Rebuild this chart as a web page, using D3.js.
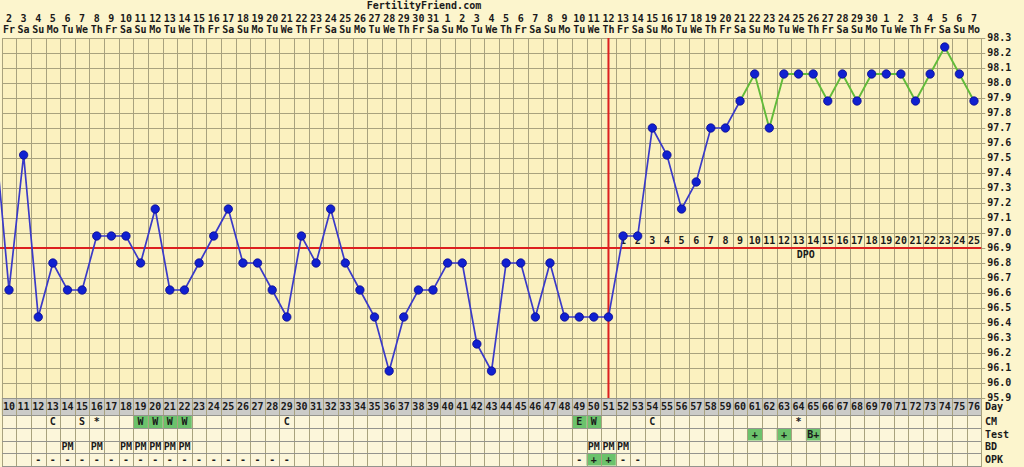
<!DOCTYPE html>
<html><head><meta charset="utf-8">
<script src="https://cdn.jsdelivr.net/npm/d3@7"></script>
<style>
body{margin:0;background:#fcf5cd;}
svg{display:block;}
text{font-family:"DejaVu Sans Mono","Liberation Mono",monospace;font-weight:bold;font-size:10px;fill:#1a1a1a;}
</style>
</head><body>
<svg id="c" width="1024" height="467"></svg>
<script>
// ---- data ----
const cycleDays = [10,11,12,13,14,15,16,17,18,19,20,21,22,23,24,25,26,27,28,29,30,31,32,33,34,35,36,37,38,39,40,41,42,43,44,45,46,47,48,49,50,51,52,53,54,55,56,57,58,59,60,61,62,63,64,65,66,67,68,69,70,71,72,73,74,75,76];
const dateLabels = ["2","3","4","5","6","7","8","9","10","11","12","13","14","15","16","17","18","19","20","21","22","23","24","25","26","27","28","29","30","31","1","2","3","4","5","6","7","8","9","10","11","12","13","14","15","16","17","18","19","20","21","22","23","24","25","26","27","28","29","30","1","2","3","4","5","6","7"];
const weekdayLabels = ["Fr","Sa","Su","Mo","Tu","We","Th","Fr","Sa","Su","Mo","Tu","We","Th","Fr","Sa","Su","Mo","Tu","We","Th","Fr","Sa","Su","Mo","Tu","We","Th","Fr","Sa","Su","Mo","Tu","We","Th","Fr","Sa","Su","Mo","Tu","We","Th","Fr","Sa","Su","Mo","Tu","We","Th","Fr","Sa","Su","Mo","Tu","We","Th","Fr","Sa","Su","Mo","Tu","We","Th","Fr","Sa","Su","Mo"];
// temperature days 9..76 (day 9 lies just off the left edge)
const tempDays = [9,10,11,12,13,14,15,16,17,18,19,20,21,22,23,24,25,26,27,28,29,30,31,32,33,34,35,36,37,38,39,40,41,42,43,44,45,46,47,48,49,50,51,52,53,54,55,56,57,58,59,60,61,62,63,64,65,66,67,68,69,70,71,72,73,74,75,76];
const temps = [97.70,96.62,97.52,96.44,96.80,96.62,96.62,96.98,96.98,96.98,96.80,97.16,96.62,96.62,96.80,96.98,97.16,96.80,96.80,96.62,96.44,96.98,96.80,97.16,96.80,96.62,96.44,96.08,96.44,96.62,96.62,96.80,96.80,96.26,96.08,96.80,96.80,96.44,96.80,96.44,96.44,96.44,96.44,96.98,96.98,97.70,97.52,97.16,97.34,97.70,97.70,97.88,98.06,97.70,98.06,98.06,98.06,97.88,98.06,97.88,98.06,98.06,98.06,97.88,98.06,98.24,98.06,97.88];
const greenFromDay = 60;
const coverline = 96.9;
const ovulationDay = 51;
const dpoDays = [52,53,54,55,56,57,58,59,60,61,62,63,64,65,66,67,68,69,70,71,72,73,74,75,76];
const dpoLabels = ["1","2","3","4","5","6","7","8","9","10","11","12","13","14","15","16","17","18","19","20","21","22","23","24","25"];
const tempTicks = [95.9,96.0,96.1,96.2,96.3,96.4,96.5,96.6,96.7,96.8,96.9,97.0,97.1,97.2,97.3,97.4,97.5,97.6,97.7,97.8,97.9,98.0,98.1,98.2,98.3];
const rowNames = ["Day","CM","Test","BD","OPK"];
const cmDays = [13,15,16,19,20,21,22,29,49,50,54,64];
const cmVals = ["C","S","*","W","W","W","W","C","E","W","C","*"];
const testDays = [61,63,65];
const testVals = ["+","+","B+"];
const bdDays = [14,16,18,19,20,21,22,50,51,52];
const bdVals = ["PM","PM","PM","PM","PM","PM","PM","PM","PM","PM"];
const opkDays = [12,13,14,15,16,17,18,19,20,21,22,23,24,25,26,27,28,29,49,50,51,52,53];
const opkVals = ["-","-","-","-","-","-","-","-","-","-","-","-","-","-","-","-","-","-","-","+","+","-","-"];

// ---- layout ----
const svg = d3.select("#c");
const L = 1.7, R = 981.3, T = 38, B = 398;
const x = d3.scaleLinear().domain([9.5, 76.5]).range([L, R]); // day centre
const y = d3.scaleLinear().domain([95.9, 98.3]).range([B, T]);
const cw = x(1) - x(0);
const rowTops = [398, 415, 428, 440.5, 453, 465.5];
const highlight = v => ["W","E","+","B+"].includes(v);

svg.append("rect").attr("x",L).attr("y",T).attr("width",R-L).attr("height",B-T).attr("fill","#fbf1bf");
svg.append("rect").attr("x",L).attr("y",rowTops[1]).attr("width",R-L).attr("height",467-rowTops[1]).attr("fill","#fcf6da");
svg.append("rect").attr("x",L).attr("y",rowTops[0]).attr("width",R-L).attr("height",rowTops[1]-rowTops[0]).attr("fill","#cbcbc8");

function cells(days, vals, r){
  days.forEach((d,i)=>{
    if(highlight(vals[i])) svg.append("rect").attr("x",x(d-0.5)).attr("y",rowTops[r]).attr("width",cw).attr("height",rowTops[r+1]-rowTops[r]).attr("fill","#6cc26c");
  });
}
cells(cmDays, cmVals, 1); cells(testDays, testVals, 2); cells(opkDays, opkVals, 4);

// grid
const g = svg.append("g").attr("stroke","#a8a27e").attr("stroke-width",1).attr("shape-rendering","crispEdges");
g.selectAll("line.h").data(tempTicks).join("line")
  .attr("x1",L).attr("x2",R).attr("y1",d=>Math.round(y(d))+0.5).attr("y2",d=>Math.round(y(d))+0.5);
g.selectAll("line.v").data([9].concat(cycleDays)).join("line")
  .attr("x1",d=>Math.round(x(d+0.5))+0.5).attr("x2",d=>Math.round(x(d+0.5))+0.5).attr("y1",T).attr("y2",467);
const g2 = svg.append("g").attr("stroke","#94948e").attr("stroke-width",1).attr("shape-rendering","crispEdges");
g2.selectAll("line").data(rowTops).join("line").attr("x1",L).attr("x2",R).attr("y1",d=>Math.round(d)+0.5).attr("y2",d=>Math.round(d)+0.5);

// right axis
const ax = svg.append("g").attr("transform",`translate(${R},0)`)
  .call(d3.axisRight(y).tickValues(tempTicks).tickFormat(d3.format(".1f")).tickSize(4).tickPadding(2));
ax.select(".domain").remove();
ax.selectAll("line").attr("stroke","#a8a27e");
ax.selectAll("text").attr("font-size","10.5px").attr("dy","0.2em");

// top labels
svg.append("text").attr("x",424).attr("y",9).attr("text-anchor","middle").attr("font-size","10px").text("FertilityFriend.com");
svg.selectAll("text.dn").data(cycleDays).join("text").attr("x",d=>x(d)).attr("y",22).attr("text-anchor","middle").text((d,i)=>dateLabels[i]);
svg.selectAll("text.wd").data(cycleDays).join("text").attr("x",d=>x(d)).attr("y",33).attr("text-anchor","middle").text((d,i)=>weekdayLabels[i]);

// coverline & ovulation
svg.append("line").attr("x1",0).attr("x2",R).attr("y1",y(coverline)).attr("y2",y(coverline)).attr("stroke","#dd2020").attr("stroke-width",2);
svg.append("line").attr("x1",x(ovulationDay)).attr("x2",x(ovulationDay)).attr("y1",T).attr("y2",B).attr("stroke","#dd2020").attr("stroke-width",2);

// DPO
svg.selectAll("text.dpo").data(dpoDays).join("text").attr("x",d=>x(d)).attr("y",244).attr("text-anchor","middle").text((d,i)=>dpoLabels[i]);
svg.append("text").attr("x",x(64.5)).attr("y",258).attr("text-anchor","middle").text("DPO");

// temps
const pts = tempDays.map((d,i)=>({d, v:temps[i]}));
svg.append("clipPath").attr("id","clip").append("rect").attr("x",0).attr("y",T-6).attr("width",R).attr("height",B-T+12);
const line = d3.line().x(p=>x(p.d)).y(p=>y(p.v));
const lg = svg.append("g").attr("clip-path","url(#clip)");
lg.append("path").datum(pts.filter(p=>p.d<=greenFromDay)).attr("d",line).attr("fill","none").attr("stroke","#3a3ac8").attr("stroke-width",1.7);
lg.append("path").datum(pts.filter(p=>p.d>=greenFromDay)).attr("d",line).attr("fill","none").attr("stroke","#62bb3a").attr("stroke-width",1.9);
lg.selectAll("circle").data(pts).join("circle").attr("cx",p=>x(p.d)).attr("cy",p=>y(p.v)).attr("r",4.2)
  .attr("fill","#1020d0").attr("stroke","#0a0a90").attr("stroke-width",0.8);

// bottom rows text
svg.selectAll("text.day").data(cycleDays).join("text").attr("x",d=>x(d)).attr("y",410).attr("text-anchor","middle").attr("fill","#222").text(d=>d);
function rowText(days, vals, r){
  svg.selectAll(null).data(days).join("text").attr("x",d=>x(d)).attr("y",(rowTops[r]+rowTops[r+1])/2+3.5)
    .attr("text-anchor","middle").text((d,i)=>vals[i]);
}
rowText(cmDays, cmVals, 1); rowText(testDays, testVals, 2); rowText(bdDays, bdVals, 3); rowText(opkDays, opkVals, 4);
svg.selectAll("text.rn").data(rowNames).join("text").attr("x",985).attr("y",(d,i)=>(i===0?410:(rowTops[i]+rowTops[i+1])/2+3.5)).attr("font-size","10.5px").text(d=>d);
</script>
</body></html>
